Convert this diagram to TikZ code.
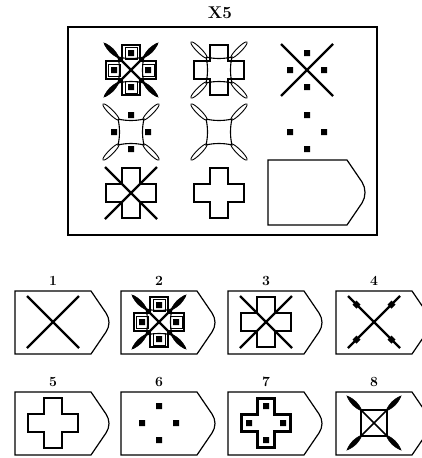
\documentclass[tikz,border=0pt]{standalone}
\usetikzlibrary{calc}
\begin{document}
\begin{tikzpicture}[x=1pt,y=-1pt,
  frameline/.style={line width=1.2pt,line join=miter},
  xline/.style={line width=2.2pt,line cap=butt},
  outl/.style={line width=1.1pt},
  lab/.style={font=\fontsize{14}{15}\selectfont\bfseries,inner sep=0pt},
  pics/xl/.style={code={\draw[xline] (-26,-26) -- (26,26) (-26,26) -- (26,-26);}},
  pics/plusfig/.style={code={\draw[outl] (-9,-25) -- (9,-25) -- (9,-9) -- (25,-9) -- (25,9) -- (9,9) -- (9,25) -- (-9,25) -- (-9,9) -- (-25,9) -- (-25,-9) -- (-9,-9) -- cycle;}},
  pics/dotsfig/.style={code={\fill (-3,-20) rectangle (3,-14) (-3,14) rectangle (3,20) (-20,-3) rectangle (-14,3) (14,-3) rectangle (20,3);}},
  pics/framesfig/.style={code={\draw[line width=0.8pt] (-6,-23) rectangle (6,-11) (-6,11) rectangle (6,23) (-23,-6) rectangle (-11,6) (11,-6) rectangle (23,6);}},
  pics/csq/.style={code={\draw[outl] (-13,-13) .. controls (-5,-11) and (5,-11) .. (13,-13) .. controls (11,-5) and (11,5) .. (13,13) .. controls (5,11) and (-5,11) .. (-13,13) .. controls (-11,5) and (-11,-5) .. (-13,-13);}},
  pics/sqx/.style={code={\draw[outl] (-13,-13) rectangle (13,13); \draw[line width=1.6pt] (-13,-13) -- (13,13) (-13,13) -- (13,-13);}},
  pics/leavesopen/.style={code={\foreach \sx/\sy in {1/1,1/-1,-1/1,-1/-1}{\draw[line width=0.9pt] ({12*\sx},{12*\sy}) .. controls ({12*\sx-2.2*\sy},{12*\sy+2.2*\sx}) and ({28*\sx-2.2*\sy},{28*\sy+2.2*\sx}) .. ({28*\sx},{28*\sy}) .. controls ({28*\sx+2.2*\sy},{28*\sy-2.2*\sx}) and ({12*\sx+2.2*\sy},{12*\sy-2.2*\sx}) .. cycle;}}},
  pics/leavesfill/.style={code={\foreach \sx/\sy in {1/1,1/-1,-1/1,-1/-1}{\filldraw[line width=0.6pt] (12*\sx,12*\sy) to[bend left=22] (27*\sx,27*\sy) to[bend left=22] (12*\sx,12*\sy);}}},
  pics/diams/.style={code={\foreach \sx/\sy in {1/1,1/-1,-1/1,-1/-1}{\fill (17.5*\sx,17.5*\sy) ++(0,-4) -- ++(4,4) -- ++(-4,4) -- ++(-4,-4) -- cycle;}}}
]
\useasboundingbox (0,0) rectangle (422,458);
% title and main frame
\node[lab,font=\fontsize{17}{18}\selectfont\bfseries] (title) at (220,13) {X5};
\draw[frameline] (68,27) rectangle (377,235);
% row 1
\pic at (131,70) {plusfig};
\pic at (131,70) {framesfig};
\pic at (131,70) {dotsfig};
\pic at (131,70) {csq};
\pic at (131,70) {xl};
\pic at (131,70) {leavesfill};
\pic at (219,70) {plusfig};
\pic at (219,70) {csq};
\pic at (219,70) {leavesopen};
\pic at (307,70) {xl};
\pic at (307,70) {dotsfig};
% row 2
\pic at (131,132) {csq};
\pic at (131,132) {leavesopen};
\pic at (131,132) {dotsfig};
\pic at (219,132) {csq};
\pic at (219,132) {leavesopen};
\pic at (307,132) {dotsfig};
% row 3
\pic at (131,193) {plusfig};
\pic at (131,193) {xl};
\pic at (219,193) {plusfig};
\draw[frameline] (268,160) -- (347,160) -- (362,182) .. controls (366,188) and (366,197) .. (362,203) -- (347,225) -- (268,225) -- cycle;
% answer boxes
\foreach \n/\lx/\ty in {1/15/291,2/121/291,3/228/291,4/336/291,5/15/392,6/121/392,7/228/392,8/336/392}{
  \draw[frameline] (\lx,\ty) -- ++(76,0) -- ++(15,22) .. controls ++(4,6) and ++(4,-6) .. ++(0,19) -- ++(-15,22) -- ++(-76,0) -- cycle;
  \node[lab] (l\n) at (\lx+38,\ty-10) {\n};
}
% answer contents
\pic at (53,322) {xl};
\pic at (159,322) {plusfig};
\pic at (159,322) {framesfig};
\pic at (159,322) {dotsfig};
\pic at (159,322) {csq};
\pic at (159,322) {xl};
\pic at (159,322) {leavesfill};
\pic at (266,322) {plusfig};
\pic at (266,322) {xl};
\pic at (374,322) {xl};
\pic at (374,322) {diams};
\pic at (53,423) {plusfig};
\pic at (159,423) {dotsfig};
\pic at (266,423) {plusfig};
\draw[line width=0.6pt] (266-7.5,423-23.5) -- (266+7.5,423-23.5) -- (266+7.5,423-7.5) -- (266+23.5,423-7.5) -- (266+23.5,423+7.5) -- (266+7.5,423+7.5) -- (266+7.5,423+23.5) -- (266-7.5,423+23.5) -- (266-7.5,423+7.5) -- (266-23.5,423+7.5) -- (266-23.5,423-7.5) -- (266-7.5,423-7.5) -- cycle;
\pic at (266,423) {dotsfig};
\pic at (374,423) {sqx};
\pic at (374,423) {leavesfill};
\end{tikzpicture}
\end{document}
